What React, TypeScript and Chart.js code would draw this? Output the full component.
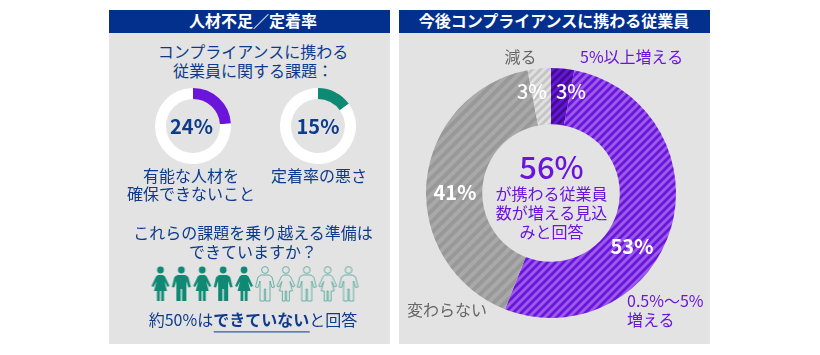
import React, { useEffect, useRef } from "react";
import { Chart, registerables } from "chart.js";

Chart.register(...registerables);

const outlookCategories = ["5%以上増える", "0.5%〜5%増える", "変わらない", "減る"];
const outlookValues = [3, 53, 41, 3];
const talentValue = [24, 76];
const retentionValue = [15, 85];
const peopleX = [0, 1, 2, 3, 4, 5, 6, 7, 8, 9];
const peopleFilled = [1, 1, 1, 1, 1, 0, 0, 0, 0, 0];

const NAVY = "#0d3a8c";
const HEADER = "#02308c";
const PURPLE = "#6a14dc";
const GREEN = "#0e8a74";
const PANEL = "#e3e3e3";
const FONT = '"Noto Sans CJK JP", "Noto Sans", sans-serif';

function stripes(base: string, stripe: string, tile: number, lw: number) {
  const c = document.createElement("canvas");
  c.width = tile;
  c.height = tile;
  const x = c.getContext("2d")!;
  x.fillStyle = base;
  x.fillRect(0, 0, tile, tile);
  x.strokeStyle = stripe;
  x.lineWidth = lw;
  for (const o of [-tile, 0, tile]) {
    x.beginPath();
    x.moveTo(o - 1, tile + 1);
    x.lineTo(o + tile + 1, -1);
    x.stroke();
  }
  return x.createPattern(c, "repeat")!;
}

const FEMALE_SHAPE = [
  [8.5, 9], [13.5, 9], [15.5, 10.5], [20, 20], [18, 21], [15, 15.5], [17.5, 25], [14.5, 25], [14.5, 35],
  [11.7, 35], [11.7, 25], [10.3, 25], [10.3, 35], [7.5, 35], [7.5, 25], [4.5, 25], [7, 15.5], [4, 21], [2, 20],
  [6.5, 10.5],
];
const MALE_SHAPE = [
  [7, 9], [15, 9], [18, 11], [20.5, 21], [18, 21.5], [16, 15], [16, 35], [11.7, 35], [11.7, 23], [10.3, 23],
  [10.3, 35], [6, 35], [6, 15], [4, 21.5], [1.5, 21], [4, 11],
];

function person(female: boolean, filled: boolean) {
  const c = document.createElement("canvas");
  c.width = 22;
  c.height = 36;
  const x = c.getContext("2d")!;
  const body = new Path2D();
  (female ? FEMALE_SHAPE : MALE_SHAPE).forEach(([px, py], i) => {
    if (i === 0) body.moveTo(px, py);
    else body.lineTo(px, py);
  });
  body.closePath();
  const head = new Path2D();
  head.arc(11, 4, 3.4, 0, Math.PI * 2);
  if (filled) {
    x.fillStyle = GREEN;
    x.fill(body);
    x.fill(head);
  } else {
    x.strokeStyle = "#4aa595";
    x.lineWidth = 0.8;
    x.stroke(body);
    x.stroke(head);
  }
  return c;
}

function Txt(p: {
  x: number;
  y: number;
  size?: number;
  color?: string;
  bold?: boolean;
  weight?: number;
  align?: "c" | "l";
  children: React.ReactNode;
}) {
  return (
    <div
      style={{
        position: "absolute",
        left: p.x,
        top: p.y,
        transform: p.align === "l" ? "translateY(-50%)" : "translate(-50%,-50%)",
        fontSize: p.size ?? 16,
        lineHeight: 1.2,
        color: p.color ?? NAVY,
        fontWeight: p.weight ?? (p.bold ? 700 : 400),
        whiteSpace: "nowrap",
      }}
    >
      {p.children}
    </div>
  );
}

const canvasStyle = (left: number, top: number): React.CSSProperties => ({
  position: "absolute",
  left,
  top,
  display: "block",
});

export default function App() {
  const a = useRef<HTMLCanvasElement>(null);
  const b = useRef<HTMLCanvasElement>(null);
  const m = useRef<HTMLCanvasElement>(null);
  const p = useRef<HTMLCanvasElement>(null);

  useEffect(() => {
    const base = {
      responsive: false,
      animation: false as const,
      events: [] as never[],
      layout: { padding: 0, autoPadding: false },
      plugins: { legend: { display: false }, tooltip: { enabled: false } },
    };
    const ring = (el: HTMLCanvasElement, values: number[], color: string, label: string) =>
      new Chart(el, {
        type: "doughnut",
        data: {
          labels: [label, ""],
          datasets: [{ data: values, backgroundColor: [color, "#ffffff"], borderWidth: 0 }],
        },
        options: { ...base, cutout: "71%" },
      });
    const charts = [
      ring(a.current!, talentValue, PURPLE, "有能な人材を確保できないこと"),
      ring(b.current!, retentionValue, GREEN, "定着率の悪さ"),
      new Chart(m.current!, {
        type: "doughnut",
        data: {
          labels: outlookCategories,
          datasets: [
            {
              data: outlookValues,
              backgroundColor: [
                stripes("#3d0f8f", "#6a14dc", 8, 3),
                stripes("#6a14dc", "#9a5ce8", 8, 3),
                stripes("#989898", "#a9a9a9", 11, 4),
                stripes("#c4c4c4", "#e0e0e0", 8, 3),
              ],
              borderWidth: 0,
            },
          ],
        },
        options: { ...base, cutout: "55%" },
      }),
      new Chart(p.current!, {
        type: "scatter",
        data: {
          datasets: [
            {
              data: peopleX.map((v) => ({ x: v, y: 0 })),
              pointStyle: peopleFilled.map((f, i) => person(i % 2 === 0, f === 1)),
              pointRadius: 18,
              clip: false,
            },
          ],
        },
        options: {
          ...base,
          scales: {
            x: { type: "linear", min: -0.5, max: 9.5, display: false },
            y: { min: -1, max: 1, display: false },
          },
        },
      }),
    ];
    return () => charts.forEach((c) => c.destroy());
  }, []);

  return (
    <div
      style={{
        position: "fixed",
        left: 0,
        top: 0,
        width: 820,
        height: 355,
        background: "#fff",
        fontFamily: FONT,
        overflow: "hidden",
      }}
    >
      <div style={{ position: "absolute", left: 109, top: 33, width: 281, height: 311, background: PANEL }} />
      <div style={{ position: "absolute", left: 399, top: 33, width: 311, height: 311, background: PANEL }} />
      <div style={{ position: "absolute", left: 109, top: 10, width: 281, height: 23, background: HEADER }} />
      <div style={{ position: "absolute", left: 399, top: 10, width: 311, height: 23, background: HEADER }} />
      <Txt x={253} y={21} color="#fff" bold>人材不足／定着率</Txt>
      <Txt x={554} y={21} color="#fff" bold>今後コンプライアンスに携わる従業員</Txt>

      <Txt x={253} y={52}>コンプライアンスに携わる</Txt>
      <Txt x={253} y={71}>従業員に関する課題：</Txt>

      <canvas ref={a} width={76} height={76} style={canvasStyle(155, 88)} />
      <canvas ref={b} width={76} height={76} style={canvasStyle(280, 88)} />
      <Txt x={191.5} y={126} size={20} bold>{talentValue[0]}%</Txt>
      <Txt x={318} y={126} size={20} bold>{retentionValue[0]}%</Txt>
      <Txt x={191} y={176}>有能な人材を</Txt>
      <Txt x={191} y={194}>確保できないこと</Txt>
      <Txt x={319} y={176}>定着率の悪さ</Txt>

      <Txt x={253} y={233}>これらの課題を乗り越える準備は</Txt>
      <Txt x={253} y={252}>できていますか？</Txt>
      <canvas ref={p} width={209} height={40} style={canvasStyle(150, 264)} />
      <Txt x={253} y={320}>
        約50%は
        <span style={{ fontWeight: 700, borderBottom: `1.5px solid ${NAVY}` }}>できていない</span>
        と回答
      </Txt>

      <canvas ref={m} width={250} height={250} style={canvasStyle(426, 68)} />
      <Txt x={532} y={91} size={20} color="#fff" weight={500}>{outlookValues[3]}%</Txt>
      <Txt x={571} y={91} size={20} color="#fff" weight={500}>{outlookValues[0]}%</Txt>
      <Txt x={632} y={246} size={20} color="#fff" bold>{outlookValues[1]}%</Txt>
      <Txt x={455} y={192} size={20} color="#fff" bold>{outlookValues[2]}%</Txt>
      <Txt x={551.5} y={166} size={31} color={PURPLE} weight={500}>{outlookValues[0] + outlookValues[1]}%</Txt>
      <Txt x={551.5} y={194} color={PURPLE}>が携わる従業員</Txt>
      <Txt x={551.5} y={213} color={PURPLE}>数が増える見込</Txt>
      <Txt x={551.5} y={232} color={PURPLE}>みと回答</Txt>
      <Txt x={520.5} y={57} color="#666">減る</Txt>
      <Txt x={580} y={57} color={PURPLE} align="l">5%以上増える</Txt>
      <Txt x={407} y={310} color="#666" align="l">変わらない</Txt>
      <Txt x={627} y={301} color={PURPLE} align="l">0.5%〜5%</Txt>
      <Txt x={627} y={320} color={PURPLE} align="l">増える</Txt>
    </div>
  );
}
